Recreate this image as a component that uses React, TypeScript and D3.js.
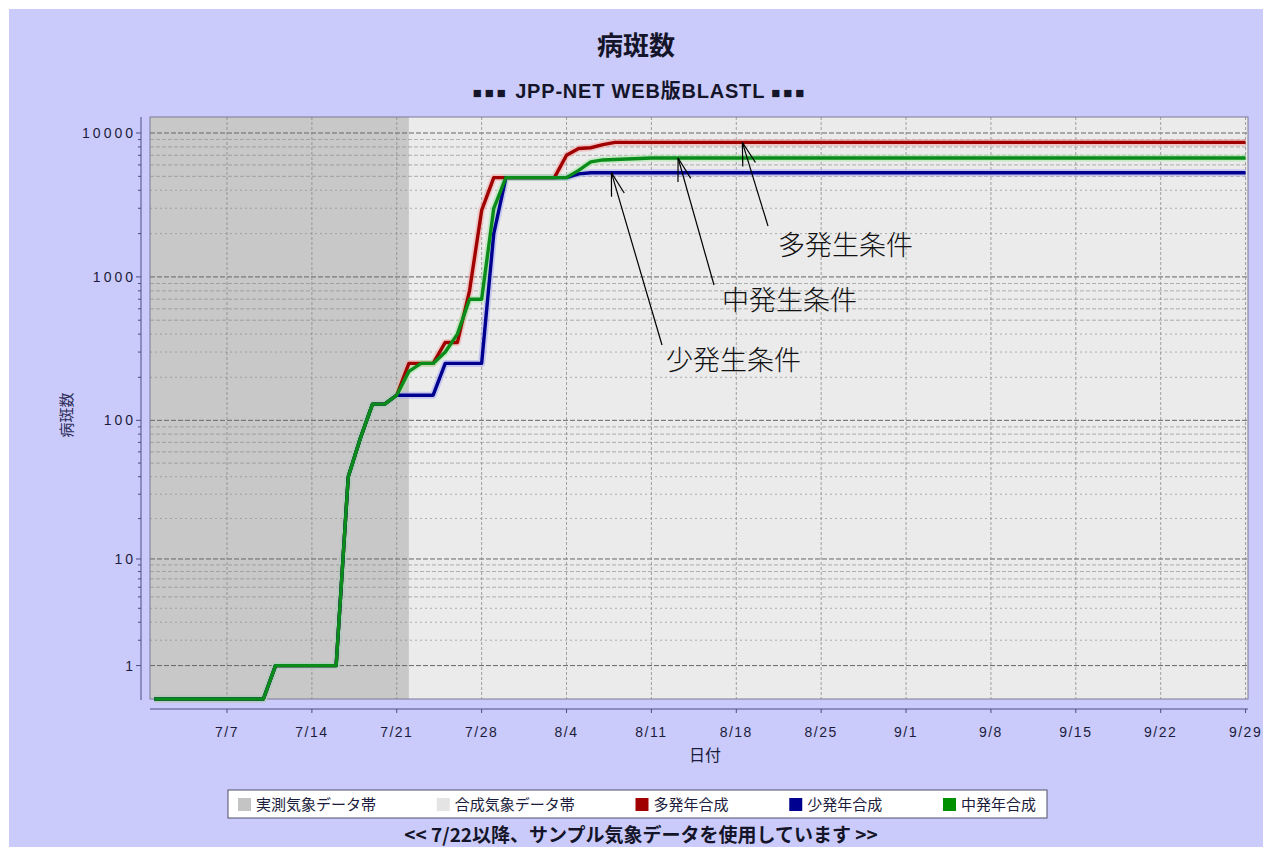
import React from "react";
import * as d3 from "d3";

// ---- data (day index: 0 = 7/1) ----
const tickDays = [6, 13, 20, 27, 34, 41, 48, 55, 62, 69, 76, 83, 90];
const tickLabels = ["7/7", "7/14", "7/21", "7/28", "8/4", "8/11", "8/18", "8/25", "9/1", "9/8", "9/15", "9/22", "9/29"];
const yTickValues = [1, 10, 100, 1000, 10000];
const yTickLabels = ["1", "10", "100", "1000", "10000"];
const observedEndDay = 21; // 7/22

const redSeries: [number, number][] = [
  [0, 0], [9, 0], [10, 1], [15, 1], [16, 40], [17, 75], [18, 130], [19, 130], [20, 150],
  [21, 250], [23, 250], [24, 350], [25, 350], [26, 800], [27, 2900], [28, 4900],
  [33, 4900], [34, 7000], [35, 7800], [36, 7900], [37, 8300], [38, 8600], [90, 8600],
];
const blueSeries: [number, number][] = [
  [0, 0], [9, 0], [10, 1], [15, 1], [16, 40], [17, 75], [18, 130], [19, 130], [20, 150],
  [23, 150], [24, 250], [27, 250], [28, 2000], [29, 4900],
  [34, 4900], [35, 5200], [36, 5300], [90, 5300],
];
const greenSeries: [number, number][] = [
  [0, 0], [9, 0], [10, 1], [15, 1], [16, 40], [17, 75], [18, 130], [19, 130], [20, 150],
  [21, 220], [22, 250], [23, 250], [24, 300], [25, 400], [26, 700], [27, 700], [28, 3000], [29, 4900],
  [34, 4900], [35, 5500], [36, 6300], [37, 6500], [39, 6600], [41, 6700], [90, 6700],
];

const legendLabels = ["実測気象データ帯", "合成気象データ帯", "多発年合成", "少発年合成", "中発年合成"];
const legendColors = ["#c4c4c4", "#e4e4e4", "#a00000", "#000090", "#009000"];

const annotLabels = ["多発生条件", "中発生条件", "少発生条件"];
const annotTip: [number, number][] = [[48.5, 8600], [43.2, 6700], [37.7, 5300]];

// ---- layout ----
const W = 1263, H = 847;
const PL = 150, PR = 1248, PT = 117, PB = 699;
const annotTail: [number, number][] = [[768, 226], [714, 285], [662, 345]];
const annotText: [number, number][] = [[778, 255], [722, 310], [666, 370]];

export default function App() {
  const x = d3.scaleLinear().domain([-0.35, 90.2]).range([PL, PR]);
  const y = d3.scaleSymlog().constant(1).domain([0.172, 12915]).range([PB, PT]).clamp(true);
  const line = d3.line<[number, number]>().x(d => x(d[0])).y(d => y(d[1]));

  const minor: number[] = [];
  for (let k = 0; k < 4; k++) for (let m = 2; m <= 9; m++) minor.push(m * Math.pow(10, k));

  const series = [
    { data: redSeries, color: "#a00000", halo: "#f2a8a8" },
    { data: blueSeries, color: "#000090", halo: "#a8a8f0" },
    { data: greenSeries, color: "#0a8c1a", halo: "#a8e8a8" },
  ];

  const font = "'Liberation Sans', Arial, 'Noto Sans CJK JP', sans-serif";
  const cjk = "'Noto Sans CJK JP', sans-serif";
  const textCol = "#1c1c3c";

  // legend layout
  const lgFs = 15;
  const lgWidths = legendLabels.map(s => 14 + 5 + s.length * lgFs);
  const lgX0 = 228, lgW = 819, lgY = 790, lgH = 28;
  const gap = (lgW - 20 - d3.sum(lgWidths)) / (legendLabels.length - 1);
  let cursor = lgX0 + 10;
  const lgPos = lgWidths.map(w => { const p = cursor; cursor += w + gap; return p; });

  return (
    <svg width={W} height={H} style={{ position: "absolute", left: 0, top: 0 }}>
      <rect x={0} y={0} width={W} height={H} fill="#ffffff" />
      <rect x={9} y={9} width={W - 9} height={H - 9} fill="#cbcbfb" />

      {/* title */}
      <text x={636} y={55} textAnchor="middle" fontFamily={cjk} fontWeight="bold" fontSize={26} fill="#15152a">病斑数</text>
      <text x={640} y={98} textAnchor="middle" fontFamily={font} fontWeight="bold" fontSize={20} letterSpacing={0.8} fill="#15152a">
        <tspan fontSize={15} letterSpacing={3}>■■■</tspan> JPP-NET WEB版BLASTL <tspan fontSize={15} letterSpacing={3}>■■■</tspan>
      </text>

      {/* plot background bands */}
      <rect x={PL} y={PT} width={x(observedEndDay) - PL} height={PB - PT} fill="#c8c8c8" />
      <rect x={x(observedEndDay)} y={PT} width={PR - x(observedEndDay)} height={PB - PT} fill="#ebebeb" />

      {/* horizontal grid */}
      {minor.map((v, i) => (
        <line key={"m" + i} x1={PL} x2={PR} y1={y(v)} y2={y(v)} stroke="#8a8a8a" strokeWidth={0.8}
          strokeDasharray={(v / Math.pow(10, Math.floor(Math.log10(v)))) >= 5 ? "4,2" : "2,3"} opacity={0.8} />
      ))}
      {yTickValues.map((v, i) => (
        <line key={"M" + i} x1={PL} x2={PR} y1={y(v)} y2={y(v)} stroke="#666" strokeWidth={1} strokeDasharray="5,2" />
      ))}
      {/* vertical grid */}
      {tickDays.map((d, i) => (
        <line key={"v" + i} x1={x(d)} x2={x(d)} y1={PT} y2={PB} stroke="#8a8a8a" strokeWidth={0.8} strokeDasharray="3,2" />
      ))}
      <rect x={PL} y={PT} width={PR - PL} height={PB - PT} fill="none" stroke="#7a7a98" strokeWidth={1} />

      {/* series */}
      {series.map((s, i) => (
        <path key={"h" + i} d={line(s.data) || ""} fill="none" stroke={s.halo} strokeWidth={7} opacity={0.55} strokeLinejoin="round" />
      ))}
      {series.map((s, i) => (
        <path key={"s" + i} d={line(s.data) || ""} fill="none" stroke={s.color} strokeWidth={3.4} strokeLinejoin="round" />
      ))}

      {/* y axis */}
      <line x1={141} x2={141} y1={PT} y2={PB + 1} stroke="#4c4c80" strokeWidth={1} />
      {minor.map((v, i) => (
        <line key={"yt" + i} x1={138} x2={141} y1={y(v)} y2={y(v)} stroke="#4c4c80" />
      ))}
      {yTickValues.map((v, i) => (
        <g key={"yl" + i}>
          <line x1={136} x2={141} y1={y(v)} y2={y(v)} stroke="#4c4c80" />
          <text x={136} y={y(v)} dy="0.36em" textAnchor="end" fontFamily={font} fontSize={14} letterSpacing={3} fill={textCol}>{yTickLabels[i]}</text>
        </g>
      ))}
      <text transform={`translate(72,${(PT + PB) / 2 + 7}) rotate(-90)`} textAnchor="middle" fontFamily={cjk} fontSize={15} fill="#2a2a55">病斑数</text>

      {/* x axis */}
      <line x1={PL} x2={PR} y1={709} y2={709} stroke="#4c4c80" strokeWidth={1} />
      {tickDays.map((d, i) => (
        <g key={"xt" + i}>
          <line x1={x(d)} x2={x(d)} y1={709} y2={713} stroke="#4c4c80" />
          <text x={x(d)} y={737} textAnchor="middle" fontFamily={font} fontSize={14} letterSpacing={1.5} fill={textCol}>{tickLabels[i]}</text>
        </g>
      ))}
      <text x={705} y={761} textAnchor="middle" fontFamily={cjk} fontSize={16} fill={textCol}>日付</text>

      {/* annotations */}
      {annotLabels.map((lab, i) => {
        const tx = x(annotTip[i][0]);
        const ty = y(annotTip[i][1]);
        const [tailX, tailY] = annotTail[i];
        const ang = Math.atan2(tailY - ty, tailX - tx);
        const bl = 24, ba = 0.28;
        const b1 = [tx + bl * Math.cos(ang - ba), ty + bl * Math.sin(ang - ba)];
        const b2 = [tx + bl * Math.cos(ang + ba), ty + bl * Math.sin(ang + ba)];
        return (
          <g key={"a" + i}>
            <line x1={tx} y1={ty} x2={tailX} y2={tailY} stroke="#000" strokeWidth={1.2} />
            <line x1={tx} y1={ty} x2={b1[0]} y2={b1[1]} stroke="#000" strokeWidth={1.2} />
            <line x1={tx} y1={ty} x2={b2[0]} y2={b2[1]} stroke="#000" strokeWidth={1.2} />
            <text x={annotText[i][0]} y={annotText[i][1]} fontFamily={cjk} fontWeight={300} fontSize={27} fill="#111">{lab}</text>
          </g>
        );
      })}

      {/* legend */}
      <rect x={lgX0} y={lgY} width={lgW} height={lgH} fill="#ffffff" stroke="#50506a" strokeWidth={1} />
      {legendLabels.map((lab, i) => (
        <g key={"lg" + i}>
          <rect x={lgPos[i]} y={lgY + 8} width={13} height={13} fill={legendColors[i]} />
          <text x={lgPos[i] + 18} y={lgY + 20} fontFamily={cjk} fontSize={lgFs} fill={textCol}>{lab}</text>
        </g>
      ))}

      {/* footer */}
      <text x={641} y={842} textAnchor="middle" fontFamily={cjk} fontWeight="bold" fontSize={19} fill="#15152a">{"<< 7/22以降、サンプル気象データを使用しています >>"}</text>
    </svg>
  );
}
